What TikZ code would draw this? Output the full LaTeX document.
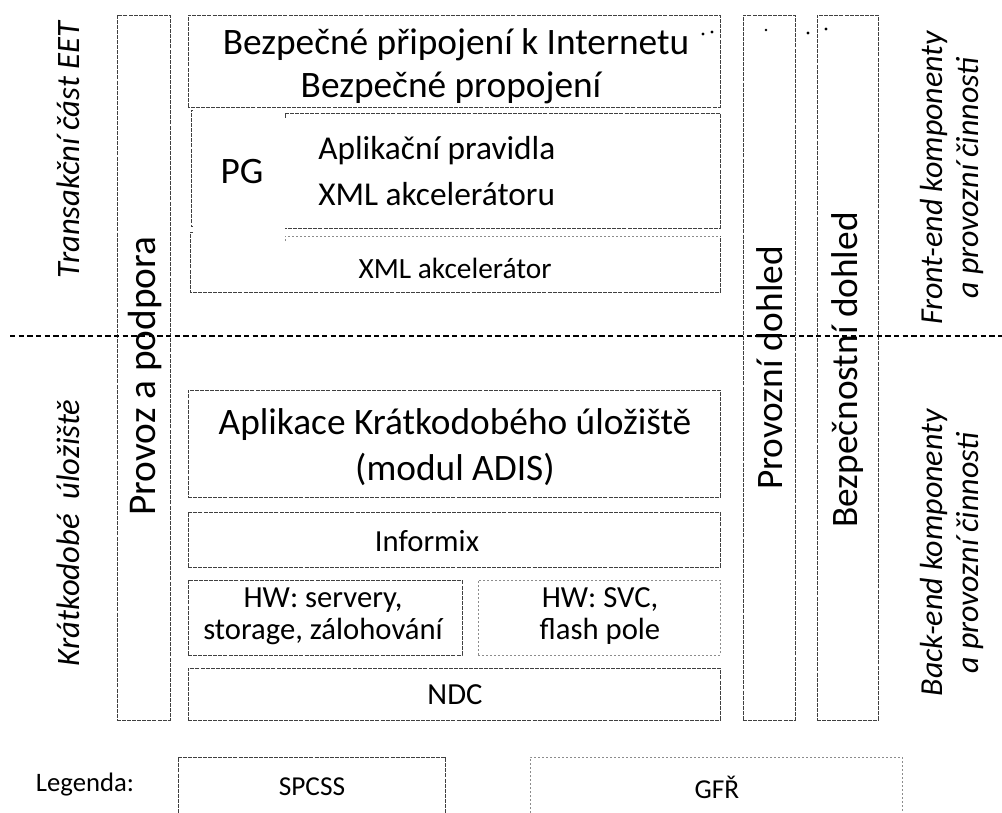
\documentclass[tikz,border=0pt]{standalone}
\usepackage{fontspec}
\setmainfont{Carlito}
\begin{document}
\begin{tikzpicture}[x=0.75pt,y=-0.75pt,
  spcss/.style={draw=black!75,line width=0.7pt,dash pattern=on 3pt off 0.8pt},
  gfr/.style={draw=black!45,line width=0.6pt,dash pattern=on 1.2pt off 1.8pt},
  big/.style={font=\fontsize{28}{32}\selectfont,align=center,inner sep=0pt},
  mid/.style={font=\fontsize{23}{24}\selectfont,align=center,inner sep=0pt},
  side/.style={font=\fontsize{24.5}{27}\selectfont\itshape,align=center,inner sep=0pt,rotate=90},
  dotm/.style={fill=black,circle,inner sep=0pt,minimum size=2.5pt}]
\useasboundingbox (0,0) rectangle (1002,813);
% columns
\node[spcss,minimum width=53*0.75pt,minimum height=705*0.75pt,inner sep=0pt] (prov) at (143.5,367.5) {};
\node[spcss,minimum width=52*0.75pt,minimum height=705*0.75pt,inner sep=0pt] (pdoh) at (769,367.5) {};
\node[spcss,minimum width=61*0.75pt,minimum height=705*0.75pt,inner sep=0pt] (bdoh) at (847.5,367.5) {};
\node[big,rotate=90,font=\fontsize{29.5}{32}\selectfont] (provt) at (145,376) {Provoz a podpora};
\node[big,rotate=90] (pdoht) at (770,368) {Provozní dohled};
\node[big,rotate=90] (bdoht) at (848,370) {Bezpečnostní dohled};
% top block
\draw[spcss] (188,107) -- (188,15) -- (720,15) -- (720,107) -- (188,107);
\draw[spcss] (193,110) -- (191,110) -- (191,226) -- (193,226);
\draw[spcss] (193,232) -- (190,232) -- (190,292) -- (720,292) -- (720,236);
\draw[spcss] (285,118) -- (285,113) -- (720,113) -- (720,228) -- (285,228);
\draw[gfr] (285,241) -- (285,236) -- (720,236);
\node[big] (t1) at (456,45) {Bezpečné připojení k Internetu};
\node[big] (t2) at (451,88) {Bezpečné propojení};
\node[big] (pg) at (242,172) {PG};
\node[big,anchor=west,align=left,font=\fontsize{25}{35}\selectfont] (apl) at (318,171) {Aplikační pravidla\\XML akcelerátoru};
\node[mid,font=\fontsize{22}{24}\selectfont] (xml) at (455,268) {XML akcelerátor};
% dots
\node[dotm] (d1) at (703,34) {};
\node[dotm] (d2) at (712,32) {};
\node[dotm,minimum size=2pt] (d3) at (766,30) {};
\node[dotm] (d4) at (808,33) {};
\node[dotm] (d5) at (826,29) {};
% divider
\coordinate (l) at (10,336);
\coordinate (r) at (1002,336);
\draw[line width=1.2pt,dash pattern=on 4pt off 2.5pt] (l) -- (r);
% lower boxes
\node[spcss,minimum width=532*0.75pt,minimum height=107*0.75pt,inner sep=0pt] (aku) at (454,443.5) {};
\node[big,font=\fontsize{28}{34}\selectfont] at (455,447) {Aplikace Krátkodobého úložiště\\(modul ADIS)};
\node[spcss,minimum width=532*0.75pt,minimum height=55*0.75pt,inner sep=0pt] (inf) at (454,539.5) {};
\node[mid] at (427,541) {Informix};
\node[spcss,minimum width=274*0.75pt,minimum height=75*0.75pt,inner sep=0pt] (hw1) at (325,617.5) {};
\node[mid] at (323,616) {HW: servery,\\storage, zálohování};
\node[gfr,minimum width=242*0.75pt,minimum height=75*0.75pt,inner sep=0pt] (hw2) at (599,617.5) {};
\node[mid] at (600,616) {HW: SVC,\\flash pole};
\node[spcss,minimum width=532*0.75pt,minimum height=52*0.75pt,inner sep=0pt] (ndc) at (454,694) {};
\node[mid] at (455,695) {NDC};
% side labels
\node[side] (tr) at (68,150) {Transakční část EET};
\node[side] (kr) at (68,533) {Krátkodobé\ \ úložiště};
\node[side,font=\fontsize{24}{26.5}\selectfont\itshape] (fe) at (952,178) {Front-end komponenty\\a provozní činnosti};
\node[side,font=\fontsize{24}{26.5}\selectfont\itshape] (be) at (952,553) {Back-end komponenty\\a provozní činnosti};
% legend
\node[mid,font=\fontsize{20}{24}\selectfont] (leg) at (85,785) {Legenda:};
\draw[spcss] (178,813) -- (178,757) -- (445,757) -- (445,813);
\draw[gfr] (530,813) -- (530,757) -- (902,757) -- (902,813);
\node[mid,font=\fontsize{20.5}{24}\selectfont] (l1) at (312,787) {SPCSS};
\node[mid,font=\fontsize{20.5}{24}\selectfont] (l2) at (717,787) {GFŘ};
\end{tikzpicture}
\end{document}
